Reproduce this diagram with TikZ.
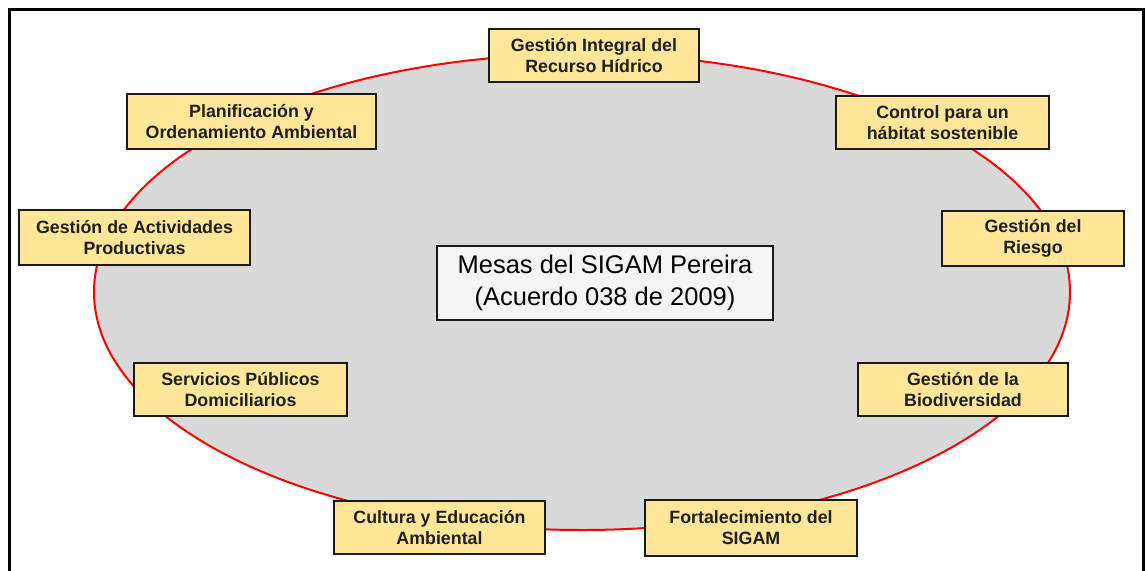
\documentclass[tikz,border=0pt]{standalone}
\usepackage{fontspec}
\setmainfont{Liberation Sans}
\begin{document}
\begin{tikzpicture}[x=1pt,y=-1pt,
  mesa/.style={draw=black!90,line width=2pt,fill=ybox,text=black!88,font=\bfseries\fontsize{17.8}{21}\selectfont,align=center,inner sep=0pt},
  central/.style={draw=black!90,line width=2pt,fill=white!96!black,text=black,font=\fontsize{25.5}{32}\selectfont,align=center,inner sep=0pt}]
\definecolor{ybox}{HTML}{FFE699}
\definecolor{elgray}{HTML}{D9D9D9}
\useasboundingbox (0,0) rectangle (1147,570);
\begin{scope}
\clip (0,0) rectangle (1147,570);
\draw[line width=3pt,black] (9.5,9.5) rectangle (1143,620);
\end{scope}
\draw[red,line width=2pt,fill=elgray] (582,292) ellipse [x radius=488, y radius=238];
\node[mesa,minimum width=210,minimum height=53] (gir) at (594,55.5) {Gestión Integral del\\Recurso Hídrico};
\node[mesa,minimum width=249,minimum height=55] (poa) at (251.5,121.5) {Planificación y\\Ordenamiento Ambiental};
\node[mesa,minimum width=213,minimum height=53] (chs) at (942.5,122.5) {Control para un\\hábitat sostenible};
\node[mesa,minimum width=231,minimum height=55] (gap) at (134.5,237.5) {Gestión de Actividades\\Productivas};
\node[mesa,minimum width=182,minimum height=55] (gr) at (1033,238.5) {Gestión del\\Riesgo};
\node[central,minimum width=336,minimum height=74] (c) at (605,283) {Mesas del SIGAM Pereira\\(Acuerdo 038 de 2009)};
\node[mesa,minimum width=213,minimum height=53] (spd) at (240.5,389.5) {Servicios Públicos\\Domiciliarios};
\node[mesa,minimum width=210,minimum height=53] (gb) at (963,389.5) {Gestión de la\\Biodiversidad};
\node[mesa,minimum width=211,minimum height=53] (cea) at (439.5,527.5) {Cultura y Educación\\Ambiental};
\node[mesa,minimum width=212,minimum height=56] (fs) at (751,528) {Fortalecimiento del\\SIGAM};
\end{tikzpicture}
\end{document}
